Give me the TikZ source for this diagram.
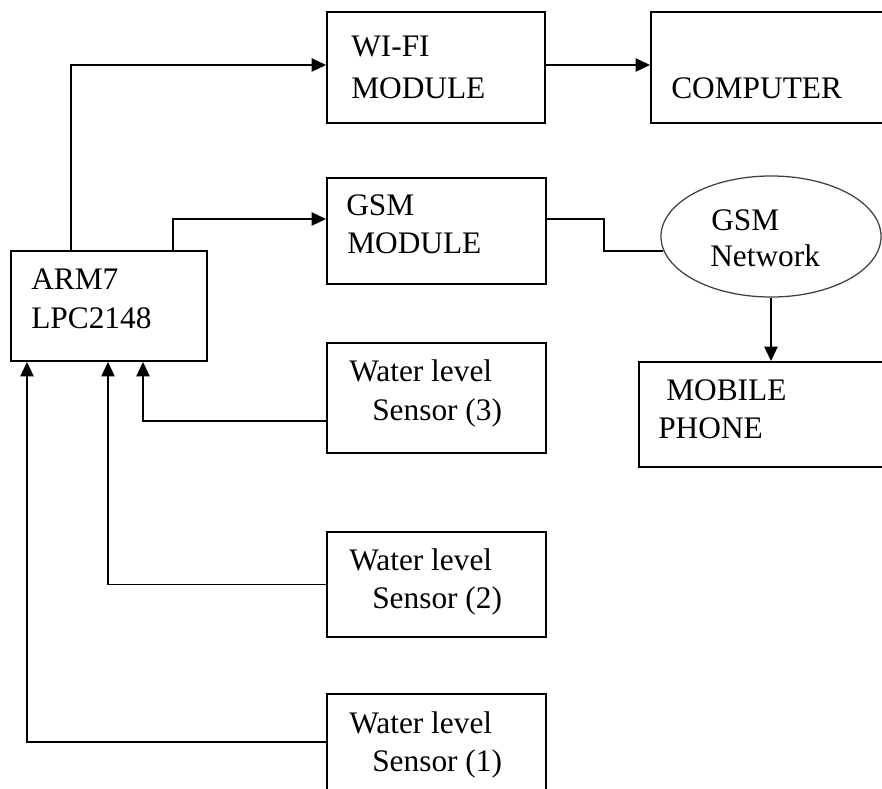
\documentclass[tikz,border=0pt]{standalone}
\usepackage{fontspec}
\setmainfont{Liberation Serif}
\usepackage{tikz}
\usetikzlibrary{positioning,%
  calc,%
  shapes.geometric,%
  arrows.meta
}

\tikzset{
  blk/.style={draw,rectangle,line width=1.3pt,inner sep=0pt},
  cloud/.style={draw=black!75,ellipse,line width=0.9pt,inner sep=0pt},
  txt/.style={anchor=base west,inner sep=0pt,font=\fontsize{22.3}{27}\selectfont},
  arr/.style={line width=1.1pt,-{Triangle[length=0.36cm,width=0.33cm]}},
  wire/.style={line width=1.1pt}
}

\begin{document}
\begin{tikzpicture}[x=0.025cm,y=-0.025cm]

  % Rahmen
  \clip (0,0) rectangle (882,789);

  % Bloecke
  \node[blk,minimum width=4.9cm,minimum height=2.75cm] (arm) at (109,306) {};
  \node[blk,minimum width=5.45cm,minimum height=2.775cm] (wifi) at (436,67.5) {};
  \node[blk,minimum width=5.825cm,minimum height=2.775cm] (comp) at (767.5,67.5) {};
  \node[blk,minimum width=5.475cm,minimum height=2.65cm] (gsm) at (436.5,231) {};
  \node[cloud,minimum width=5.5cm,minimum height=3.025cm] (net) at (771,236.5) {};
  \node[blk,minimum width=6.125cm,minimum height=2.625cm] (mob) at (761.5,414.5) {};
  \node[blk,minimum width=5.475cm,minimum height=2.75cm] (sthree) at (436.5,398) {};
  \node[blk,minimum width=5.475cm,minimum height=2.625cm] (stwo) at (436.5,584.5) {};
  \node[blk,minimum width=5.475cm,minimum height=2.65cm] (sone) at (436.5,747) {};

  % Beschriftung
  \node[txt] (armA) at (31,289) {ARM7};
  \node[txt] (armB) at (31,328) {LPC2148};
  \node[txt] (wifiA) at (351,56) {WI-FI};
  \node[txt] (wifiB) at (351,98) {MODULE};
  \node[txt] (compA) at (671,98) {COMPUTER};
  \node[txt] (gsmA) at (346,215) {GSM};
  \node[txt] (gsmB) at (347,253) {MODULE};
  \node[txt] (netA) at (711,230) {GSM};
  \node[txt] (netB) at (710,266) {Network};
  \node[txt] (mobA) at (666,400) {MOBILE};
  \node[txt] (mobB) at (658,438) {PHONE};
  \node[txt] (sthreeA) at (349,381) {Water level};
  \node[txt] (sthreeB) at (372,420) {Sensor (3)};
  \node[txt] (stwoA) at (349,570) {Water level};
  \node[txt] (stwoB) at (372,608) {Sensor (2)};
  \node[txt] (soneA) at (349,733) {Water level};
  \node[txt] (soneB) at (372,771) {Sensor (1)};

  % Verbindungen
  \draw[arr] ($(arm.north)+(-38,0)$) |- ($(wifi.west)+(0,-2.5)$);
  \draw[arr] ($(arm.north)+(64,0)$) |- ($(gsm.west)+(0,-12)$);
  \draw[arr] ($(wifi.east)+(0,-2.5)$) -- ($(comp.west)+(0,-2.5)$);
  \draw[wire] ($(gsm.east)+(0,-12)$) -- ++(57,0) |- ($(net.west)+(3,14.5)$);
  \draw[arr] (net.south) -- (net.south |- mob.north);
  \draw[arr] ($(sthree.west)+(0,23)$) -| ($(arm.south)+(34,0)$);
  \draw[arr] (stwo.west) -| ($(arm.south)+(-1,0)$);
  \draw[arr] ($(sone.west)+(0,-5)$) -| ($(arm.south)+(-82,0)$);

\end{tikzpicture}
\end{document}
